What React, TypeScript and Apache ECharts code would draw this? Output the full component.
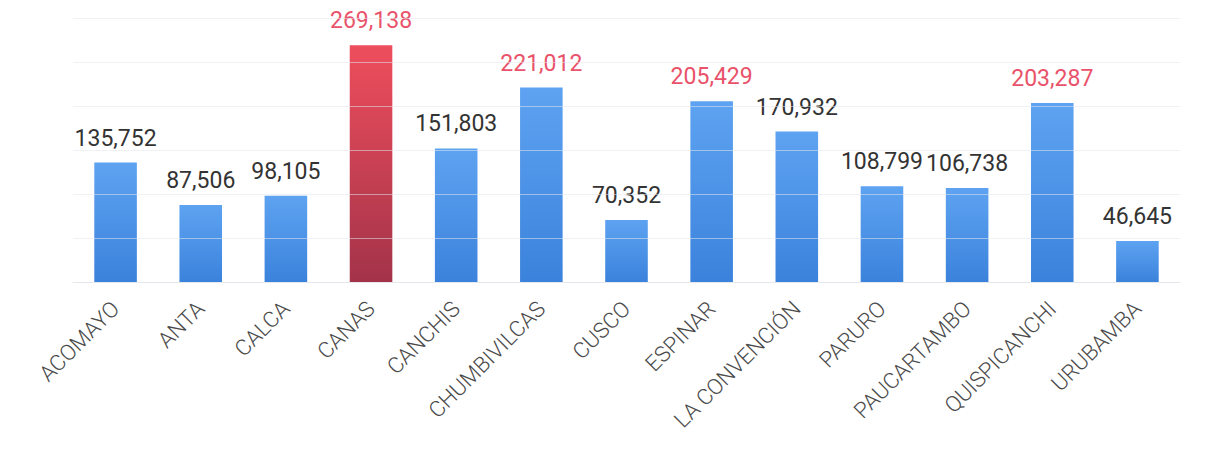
import React, { useEffect, useRef } from "react";
import * as echarts from "echarts";

const categories = [
  "ACOMAYO", "ANTA", "CALCA", "CANAS", "CANCHIS", "CHUMBIVILCAS", "CUSCO",
  "ESPINAR", "LA CONVENCIÓN", "PARURO", "PAUCARTAMBO", "QUISPICANCHI", "URUBAMBA",
];
const values = [
  135752, 87506, 98105, 269138, 151803, 221012, 70352,
  205429, 170932, 108799, 106738, 203287, 46645,
];
const highlightedBar = ["CANAS"];
const highlightedLabels = ["CANAS", "CHUMBIVILCAS", "ESPINAR", "QUISPICANCHI"];

const blueGrad = () =>
  new echarts.graphic.LinearGradient(0, 0, 0, 1, [
    { offset: 0, color: "#5ea3f1" },
    { offset: 1, color: "#3b82dc" },
  ]);
const redGrad = () =>
  new echarts.graphic.LinearGradient(0, 0, 0, 1, [
    { offset: 0, color: "#ee4e5c" },
    { offset: 1, color: "#a3334a" },
  ]);

export default function App() {
  const ref = useRef<HTMLDivElement>(null);
  useEffect(() => {
    if (!ref.current) return;
    const chart = echarts.init(ref.current, undefined, { renderer: "svg" });
    const data = categories.map((c, i) => ({
      value: values[i],
      itemStyle: { color: highlightedBar.includes(c) ? redGrad() : blueGrad() },
      label: { color: highlightedLabels.includes(c) ? "#e9526a" : "#333333" },
    }));
    chart.setOption({
      animation: false,
      backgroundColor: "#ffffff",
      grid: { left: 73, right: 32, top: 18, bottom: 184, containLabel: false },
      xAxis: {
        type: "category",
        data: categories,
        axisLine: { show: true, lineStyle: { color: "#e6e8ec" } },
        axisTick: { show: false },
        axisLabel: {
          rotate: 45,
          fontSize: 22,
          fontWeight: 300,
          color: "#4a4a4a",
          fontFamily: "Roboto",
          interval: 0,
          margin: 23,
        },
      },
      yAxis: {
        type: "value",
        min: 0,
        max: 300000,
        interval: 50000,
        z: 3,
        axisLabel: { show: false },
        axisLine: { show: false },
        axisTick: { show: false },
        splitLine: { show: true, lineStyle: { color: "rgba(225,229,236,0.55)", width: 1 } },
      },
      series: [
        {
          type: "bar",
          data,
          barWidth: "50%",
          label: {
            show: true,
            position: "top",
            distance: 13,
            fontSize: 23,
            fontFamily: "Roboto",
            formatter: (p: any) => Number(p.value).toLocaleString("en-US"),
          },
        },
      ],
    });
    return () => chart.dispose();
  }, []);
  return (
    <div
      ref={ref}
      style={{ position: "absolute", left: 0, top: 0, width: 1212, height: 466 }}
    />
  );
}
